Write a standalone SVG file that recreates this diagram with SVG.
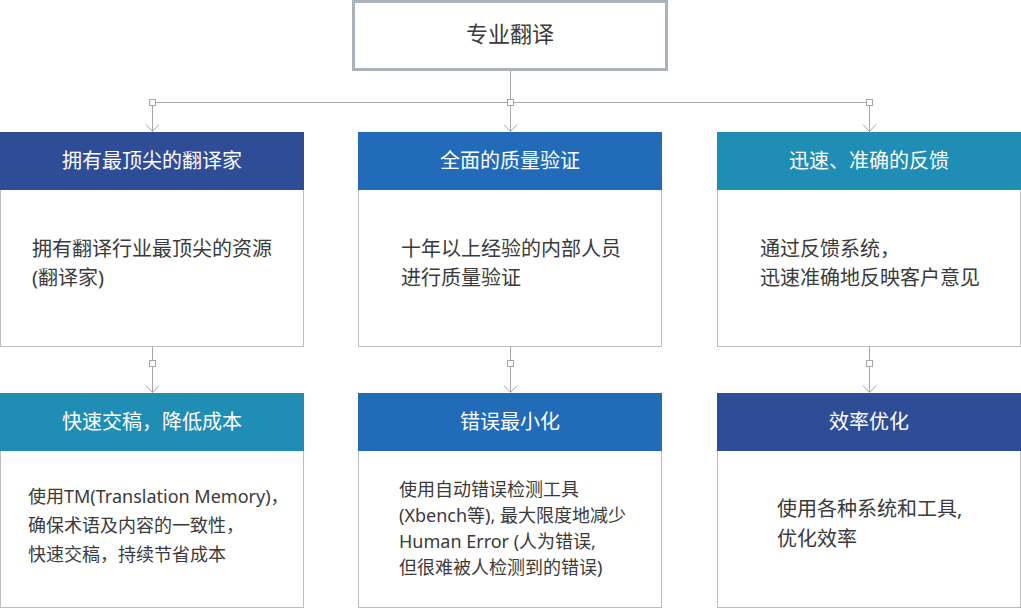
<svg xmlns="http://www.w3.org/2000/svg" width="1021" height="609" viewBox="0 0 1021 609">
<defs>
<style>
.t{font-family:"Noto Sans","Noto Sans CJK SC",sans-serif}
.h{font-size:20px;fill:#ffffff;text-anchor:middle}
.b{font-size:20px;fill:#3a3a3a}
.s{font-size:18px;fill:#3a3a3a}
.body{fill:#ffffff;stroke:#bdbdbd;stroke-width:1}
.c1{fill:#2f4d97}
.c2{fill:#216bb9}
.c3{fill:#208db5}
.ln{stroke:#a6a6a6;stroke-width:1;fill:none}
.sq{fill:#ffffff;stroke:#a6a6a6;stroke-width:1}
</style>
<marker id="arr" markerWidth="8" markerHeight="15" refX="7.5" refY="7" viewBox="0 0 8 14" markerUnits="userSpaceOnUse" orient="auto">
<path d="M0.5,0.5 L7.5,7 L0.5,13.5" fill="none" stroke="#a6a6a6" stroke-width="1"/>
</marker>
</defs>
<rect width="1021" height="609" fill="#ffffff"/>
<g id="connectors">
<path class="ln" d="M510.5,71 V102.5"/>
<path class="ln" d="M152.5,102.5 H869.5"/>
<path class="ln" d="M152.5,102.5 V131.5" marker-end="url(#arr)"/>
<path class="ln" d="M510.5,102.5 V131.5" marker-end="url(#arr)"/>
<path class="ln" d="M869.5,102.5 V131.5" marker-end="url(#arr)"/>
<path class="ln" d="M152.5,347 V392.5" marker-end="url(#arr)"/>
<path class="ln" d="M510.5,347 V392.5" marker-end="url(#arr)"/>
<path class="ln" d="M869.5,347 V392.5" marker-end="url(#arr)"/>
<rect class="sq" x="149.5" y="99.5" width="6" height="6"/>
<rect class="sq" x="507.5" y="99.5" width="6" height="6"/>
<rect class="sq" x="866.5" y="99.5" width="6" height="6"/>
<rect class="sq" x="149.5" y="360.5" width="6" height="6"/>
<rect class="sq" x="507.5" y="360.5" width="6" height="6"/>
<rect class="sq" x="866.5" y="360.5" width="6" height="6"/>
</g>
<g id="root">
<rect x="353.5" y="1.5" width="313" height="68" fill="#ffffff" stroke="#aab3bd" stroke-width="3"/>
<text class="t" x="510" y="42" font-size="22" fill="#3a3a3a" text-anchor="middle">专业翻译</text>
</g>
<g id="n1">
<rect class="body" x="0.5" y="189.5" width="303" height="157"/>
<rect class="c1" x="0" y="132" width="304" height="58"/>
<text class="t h" x="152" y="168">拥有最顶尖的翻译家</text>
<text class="t b" x="32" y="256">拥有翻译行业最顶尖的资源</text>
<text class="t b" x="32" y="285">(翻译家)</text>
</g>
<g id="n2">
<rect class="body" x="358.5" y="189.5" width="303" height="157"/>
<rect class="c2" x="358" y="132" width="304" height="58"/>
<text class="t h" x="510" y="168">全面的质量验证</text>
<text class="t b" x="401" y="256">十年以上经验的内部人员</text>
<text class="t b" x="401" y="285">进行质量验证</text>
</g>
<g id="n3">
<rect class="body" x="717.5" y="189.5" width="303" height="157"/>
<rect class="c3" x="717" y="132" width="304" height="58"/>
<text class="t h" x="869" y="168">迅速、准确的反馈</text>
<text class="t b" x="760" y="256">通过反馈系统，</text>
<text class="t b" x="760" y="285">迅速准确地反映客户意见</text>
</g>
<g id="n4">
<rect class="body" x="0.5" y="450.5" width="303" height="157"/>
<rect class="c3" x="0" y="393" width="304" height="58"/>
<text class="t h" x="152" y="429">快速交稿，降低成本</text>
<text class="t s" x="28" y="503">使用TM(Translation Memory)，</text>
<text class="t s" x="28" y="532">确保术语及内容的一致性，</text>
<text class="t s" x="28" y="561">快速交稿，持续节省成本</text>
</g>
<g id="n5">
<rect class="body" x="358.5" y="450.5" width="303" height="157"/>
<rect class="c2" x="358" y="393" width="304" height="58"/>
<text class="t h" x="510" y="429">错误最小化</text>
<text class="t s" x="399" y="496">使用自动错误检测工具</text>
<text class="t s" x="399" y="522">(Xbench等), 最大限度地减少</text>
<text class="t s" x="399" y="548">Human Error (人为错误,</text>
<text class="t s" x="399" y="574">但很难被人检测到的错误)</text>
</g>
<g id="n6">
<rect class="body" x="717.5" y="450.5" width="303" height="157"/>
<rect class="c1" x="717" y="393" width="304" height="58"/>
<text class="t h" x="869" y="429">效率优化</text>
<text class="t b" x="777" y="516">使用各种系统和工具,</text>
<text class="t b" x="777" y="546">优化效率</text>
</g>
</svg>
